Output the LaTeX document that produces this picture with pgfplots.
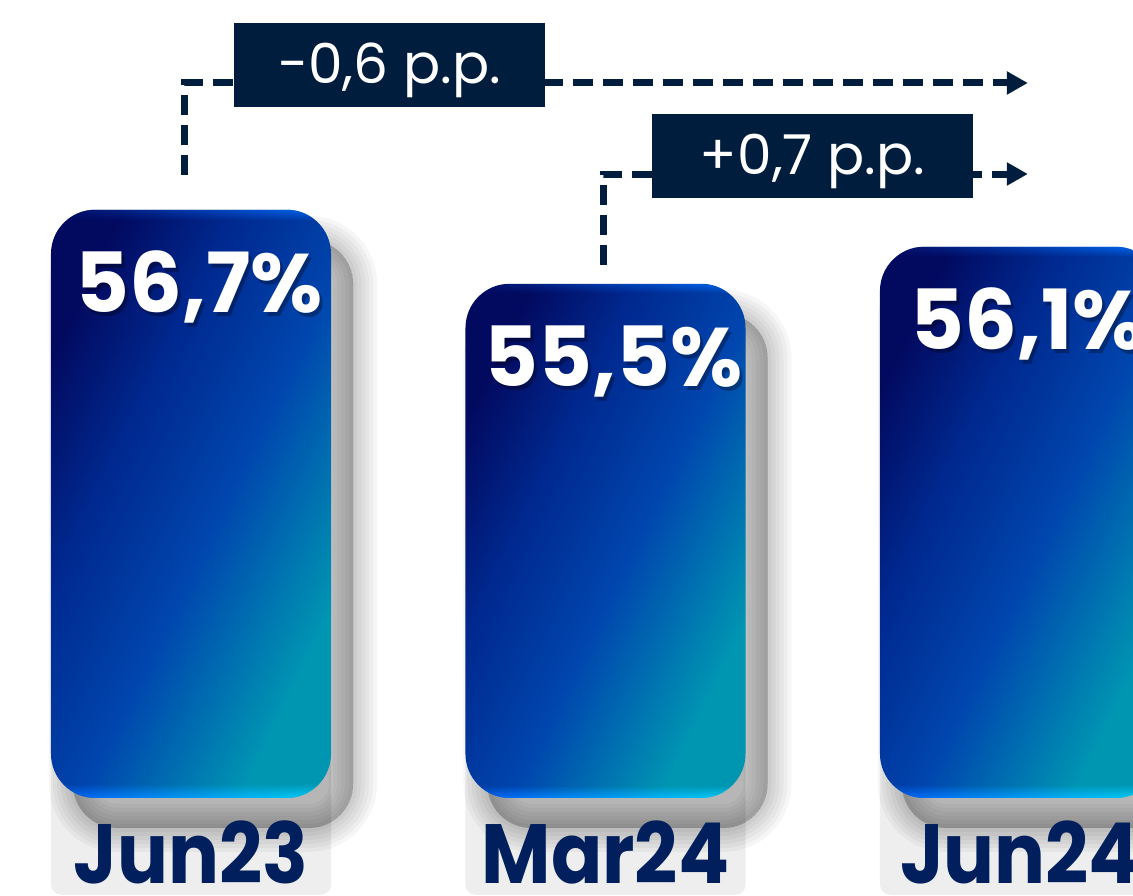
\documentclass[border=0pt]{standalone}
\usepackage{fontspec}
\setmainfont{Poppins}
\usepackage{pgfplots}
\pgfplotsset{compat=1.18}
\usetikzlibrary{arrows.meta,fadings}

\definecolor{boxnavy}{RGB}{0,29,61}
\definecolor{labelnavy}{RGB}{0,31,92}
\definecolor{panelgray}{RGB}{238,238,238}
\definecolor{barA}{RGB}{2,10,96}
\definecolor{barD}{RGB}{0,40,142}
\definecolor{barB}{RGB}{0,70,174}
\definecolor{barC}{RGB}{0,150,178}
\definecolor{glowL}{RGB}{0,96,255}
\definecolor{glowR}{RGB}{0,220,255}
\definecolor{glowT}{RGB}{0,112,255}

\pgfdeclareverticalshading{barshade}{100bp}{color(0bp)=(barC); color(27bp)=(barC);
  color(46bp)=(barB); color(62bp)=(barD); color(75bp)=(barA); color(100bp)=(barA)}
% thin bright rims along the bottom and top edges of each bar
\pgfdeclareverticalshading{bglowshade}{100bp}{color(0bp)=(white); color(25bp)=(white);
  color(26.3bp)=(black); color(100bp)=(black)}
\pgfdeclarefading{bottomglow}{\pgfuseshading{bglowshade}}
\pgfdeclareverticalshading{tglowshade}{100bp}{color(0bp)=(black); color(74bp)=(black);
  color(75bp)=(white); color(100bp)=(white)}
\pgfdeclarefading{topglow}{\pgfuseshading{tglowshade}}

\pgfplotsset{
  shadowlayer/.style={preaction={draw=black, fill=black, line width=#1, line join=round,
      opacity=0.035, transform canvas={xshift=22pt,yshift=-30pt}}},
  barshadow/.style={draw=none, rounded corners=44pt,
      shadowlayer=0pt, shadowlayer=8pt, shadowlayer=16pt, shadowlayer=24pt,
      shadowlayer=32pt, shadowlayer=40pt, shadowlayer=48pt},
  roundbar/.style={draw=none, rounded corners=44pt,
      shade, shading=barshade, shading angle=64},
  bottomrim/.style={draw=none, rounded corners=44pt, left color=glowL, right color=glowR,
      path fading=bottomglow},
  toprim/.style={draw=none, rounded corners=44pt, left color=barA, right color=glowT,
      path fading=topglow},
  panel/.style={draw=none, fill=panelgray, rounded corners=10pt},
  valuelabel/.style={draw=none, point meta=y, nodes near coords={\pgfmathprintnumber[fixed,fixed zerofill,precision=1,use comma,assume math mode=true]{\pgfplotspointmeta}\%},
      nodes near coords style={anchor=base, font=\fontsize{83}{83}\selectfont\bfseries, #1}},
}
\tikzset{
  changebox/.style={fill=boxnavy, text=white, minimum height=84pt, inner sep=0pt,
      text depth=4pt, font=\fontsize{55}{55}\selectfont},
  changearrow/.style={boxnavy, line width=7pt, dash pattern=on 20pt off 10pt,
      -{Triangle[length=21pt,width=22pt]}},
}

\begin{document}
\begin{tikzpicture}
\begin{axis}[
  width=1133pt, height=896pt, scale only axis, at={(0,0)}, anchor=south west,
  xmin=-0.4608, xmax=2.2727, ymin=45.58, ymax=60.10,
  axis on top,
  axis line style={draw=none}, major tick length=0pt,
  ytick=\empty, xtick={0,1,2}, xticklabels={Jun23,Mar24,Jun24},
  xticklabel style={anchor=base, inner sep=0pt, yshift=12pt, xscale=0.9, text=labelnavy,
    font=\fontsize{84}{84}\selectfont\bfseries},
]
% grey panels behind the month labels
\addplot[panel] coordinates {(-0.3378,45.60) (-0.3378,48.6) (0.3378,48.6) (0.3378,45.60)} --cycle;
\addplot[panel] coordinates {(0.6622,45.60) (0.6622,48.6) (1.3378,48.6) (1.3378,45.60)} --cycle;
\addplot[panel] coordinates {(1.6622,45.60) (1.6622,48.6) (2.3378,48.6) (2.3378,45.60)} --cycle;
% soft drop shadows
\addplot[barshadow] coordinates {(-0.3378,47.17) (-0.3378,56.7) (0.3378,56.7) (0.3378,47.17)} --cycle;
\addplot[barshadow] coordinates {(0.6622,47.17) (0.6622,55.5) (1.3378,55.5) (1.3378,47.17)} --cycle;
\addplot[barshadow] coordinates {(1.6622,47.17) (1.6622,56.1) (2.3378,56.1) (2.3378,47.17)} --cycle;
% bars, base at 47.17
\addplot[roundbar] coordinates {(-0.3378,47.17) (-0.3378,56.7) (0.3378,56.7) (0.3378,47.17)} --cycle;
\addplot[roundbar] coordinates {(0.6622,47.17) (0.6622,55.5) (1.3378,55.5) (1.3378,47.17)} --cycle;
\addplot[roundbar] coordinates {(1.6622,47.17) (1.6622,56.1) (2.3378,56.1) (2.3378,47.17)} --cycle;
\addplot[bottomrim] coordinates {(-0.3378,47.17) (-0.3378,56.7) (0.3378,56.7) (0.3378,47.17)} --cycle;
\addplot[bottomrim] coordinates {(0.6622,47.17) (0.6622,55.5) (1.3378,55.5) (1.3378,47.17)} --cycle;
\addplot[bottomrim] coordinates {(1.6622,47.17) (1.6622,56.1) (2.3378,56.1) (2.3378,47.17)} --cycle;
\addplot[toprim] coordinates {(-0.3378,47.17) (-0.3378,56.7) (0.3378,56.7) (0.3378,47.17)} --cycle;
\addplot[toprim] coordinates {(0.6622,47.17) (0.6622,55.5) (1.3378,55.5) (1.3378,47.17)} --cycle;
\addplot[toprim] coordinates {(1.6622,47.17) (1.6622,56.1) (2.3378,56.1) (2.3378,47.17)} --cycle;
% values: soft shadow first, then white text
\addplot[valuelabel={text=black, opacity=0.3, xshift=11pt, yshift=-107pt}] coordinates {(0,56.7) (1,55.5) (2,56.1)};
\addplot[valuelabel={text=white, xshift=8pt, yshift=-103pt}] coordinates {(0,56.7) (1,55.5) (2,56.1)};
% change annotations
\draw[changearrow] (axis cs:-0.0145,57.26) |- (axis cs:2.019,58.755);
\node[changebox, minimum width=311pt] at (axis cs:0.479,59.047) {-0,6 p.p.};
\draw[changearrow] (axis cs:0.994,55.805) |- (axis cs:2.019,57.28);
\node[changebox, minimum width=321pt] at (axis cs:1.4994,57.572) {+0,7 p.p.};
\end{axis}
\pgfresetboundingbox
\useasboundingbox (0,0) rectangle (1133pt,896pt);
\end{tikzpicture}
\end{document}
